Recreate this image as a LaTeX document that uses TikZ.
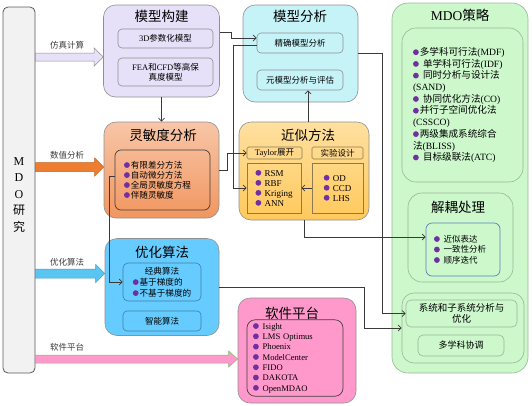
\documentclass[tikz,border=0pt]{standalone}
\usepackage{fontspec}
\setmainfont{Liberation Serif}
\newfontfamily\cjk{Noto Sans CJK SC}
\usepackage{tikz}
\usetikzlibrary{arrows.meta,calc,positioning}
\definecolor{LineGray}{HTML}{909090}
\definecolor{BarFill}{HTML}{F2F2F2}
\definecolor{BarLine}{HTML}{5A5A5A}
\definecolor{LavFill}{HTML}{E6E0F8}
\definecolor{CyanFill}{HTML}{C6F3F8}
\definecolor{PeachTop}{HTML}{F8C6A8}
\definecolor{PeachBot}{HTML}{F1965F}
\definecolor{SandTop}{HTML}{FFE0A0}
\definecolor{SandBot}{HTML}{FFC95C}
\definecolor{SandEdge}{HTML}{8C7A50}
\definecolor{SkyFill}{HTML}{66CCFF}
\definecolor{SkyEdge}{HTML}{3C7EA8}
\definecolor{PinkFill}{HTML}{FF99CC}
\definecolor{MintFill}{HTML}{CCF8CC}
\definecolor{MintLine}{HTML}{9AB59A}
\definecolor{BlueEdge}{HTML}{5B7FC0}
\definecolor{DarkEdge}{HTML}{404040}
\definecolor{Bullet}{HTML}{7030A0}
\definecolor{Ink}{HTML}{3A3A3A}
\definecolor{OrangeArr}{HTML}{ED7D31}
\definecolor{OrangeArrLine}{HTML}{C96420}
\definecolor{SkyArr}{HTML}{5BC5F2}
\definecolor{SkyArrLine}{HTML}{3FA2D0}
\definecolor{PinkArrLine}{HTML}{84BA6A}
\newcommand{\en}[1]{{\rmfamily #1}}
\newcommand{\dotp}{\tikz[baseline=-3.2pt]\fill[Bullet] (0,0) circle[radius=2.9pt];\hspace{1pt}}

\begin{document}
\begin{tikzpicture}[x=1pt,y=-1pt,
    panel/.style={draw=LineGray, rounded corners=12pt, line width=0.6pt, inner sep=0pt},
    ttl/.style={font=\cjk\fontsize{13.5}{15}\selectfont, inner sep=0pt},
    sub/.style={draw=LineGray, rounded corners=4pt, line width=0.6pt, align=center, inner sep=1pt,
        font=\cjk\fontsize{8.5}{10}\selectfont},
    lbl/.style={font=\cjk\fontsize{8.5}{10}\selectfont, text=Ink, inner sep=0pt},
    fat/.style={line width=0.5pt, line join=miter},
    link/.style={draw=Ink, line width=0.7pt, -{Straight Barb[length=3pt,width=6pt]}}]
    \useasboundingbox (0,0) rectangle (532,405);

    % left bar
    \node[draw=BarLine, fill=BarFill, rounded corners=5pt, line width=0.8pt, inner sep=0pt,
        minimum width=32pt, minimum height=366pt] (mdo) at (19,190) {};
    \node[align=center, inner sep=0pt, font=\cjk\fontsize{12}{16.5}\selectfont] (mdoT) at (19,195)
        {\en{M}\\\en{D}\\\en{O}\\研\\究};

    % model building
    \node[panel, fill=LavFill, minimum width=116pt, minimum height=92pt] (mx) at (161.5,51) {};
    \node[ttl] (mxT) at (161.5,16) {模型构建};
    \node[sub, minimum width=95pt, minimum height=19pt] (mx3d) at (165.5,38.5) {\en{3D}参数化模型};
    \node[sub, minimum width=95pt, minimum height=28pt] (mxFea) at (165.5,72)
        {\en{FEA}和\en{CFD}等高保\\真度模型};

    % model analysis
    \node[panel, fill=CyanFill, minimum width=115pt, minimum height=97pt] (fx) at (300.5,53.5) {};
    \node[ttl] (fxT) at (300,16) {模型分析};
    \node[sub, minimum width=86pt, minimum height=20pt] (fxJ) at (300,43) {精确模型分析};
    \node[sub, minimum width=86pt, minimum height=20pt] (fxY) at (300,80) {元模型分析与评估};

    % sensitivity
    \node[panel, top color=PeachTop, bottom color=PeachBot, minimum width=115pt, minimum height=96pt] (lm) at (161.5,170) {};
    \node[ttl] (lmT) at (163,135) {灵敏度分析};
    \node[draw=DarkEdge, rounded corners=6pt, line width=0.7pt, minimum width=95pt, minimum height=60pt,
        text width=77pt, inner xsep=9pt, align=left, font=\cjk\fontsize{8.6}{10}\selectfont] (lmL) at (162.5,180)
        {\dotp 有限差分方法\\\dotp 自动微分方法\\\dotp 全局灵敏度方程\\\dotp 伴随灵敏度};

    % approximation
    \node[panel, top color=SandTop, bottom color=SandBot, minimum width=130pt, minimum height=98pt] (jf) at (304,171) {};
    \node[ttl] (jfT) at (308,135) {近似方法};
    \node[sub, draw=SandEdge, rounded corners=1.5pt, inner sep=0pt, minimum width=55pt, minimum height=12pt] (jfTa) at (274.5,153) {\en{Taylor}展开};
    \node[sub, draw=SandEdge, rounded corners=1.5pt, inner sep=0pt, minimum width=51pt, minimum height=12pt] (jfSy) at (337.5,153) {实验设计};
    \node[draw=SandEdge, line width=0.6pt, minimum width=54pt, minimum height=50pt, align=left, inner sep=0pt,
        font=\rmfamily\fontsize{9}{10}\selectfont] (jfA) at (274,188)
        {\dotp\ RSM\\\dotp\ RBF\\\dotp\ Kriging\\\dotp\ ANN};
    \node[draw=SandEdge, line width=0.6pt, minimum width=51pt, minimum height=50pt, align=left, inner sep=0pt,
        font=\rmfamily\fontsize{9}{10}\selectfont] (jfB) at (337.5,188)
        {\dotp\ OD\\\dotp\ CCD\\\dotp\ LHS};

    % optimisation
    \node[panel, fill=SkyFill, minimum width=114pt, minimum height=97pt] (yh) at (162,287) {};
    \node[ttl] (yhT) at (162,252) {优化算法};
    \node[sub, draw=SkyEdge, rounded corners=5pt, minimum width=78pt, minimum height=38pt,
        font=\cjk\fontsize{8.6}{11}\selectfont] (yhJ) at (162,282)
        {经典算法\\\dotp 基于梯度的\hphantom{不}\\\dotp 不基于梯度的};
    \node[sub, draw=SkyEdge, minimum width=78pt, minimum height=20pt] (yhZ) at (162,321) {智能算法};

    % software
    \node[panel, fill=PinkFill, minimum width=118pt, minimum height=105pt] (rj) at (297,350.5) {};
    \node[ttl] (rjT) at (292,313) {软件平台};
    \node[draw=DarkEdge, rounded corners=8pt, line width=0.7pt, minimum width=96pt, minimum height=72pt,
        text width=84pt, inner xsep=6pt, align=left, font=\rmfamily\fontsize{8.6}{10.3}\selectfont] (rjL) at (295,358)
        {\dotp\ Isight\\\dotp\ LMS Optimus\\\dotp\ Phoenix\\\dotp\ ModelCenter\\\dotp\ FIDO\\\dotp\ DAKOTA\\\dotp\ OpenMDAO};

    % MDO strategy
    \node[panel, fill=MintFill, draw=MintLine, rounded corners=16pt, minimum width=136pt, minimum height=370pt] (cl) at (460,188) {};
    \node[ttl] (clT) at (460,15) {\en{MDO}策略};
    \node[panel, draw=MintLine, rounded corners=14pt, minimum width=121pt, minimum height=154pt,
        text width=99pt, inner xsep=11pt, align=left, font=\cjk\fontsize{9.6}{11.7}\selectfont] (clA) at (462.5,105)
        {\dotp 多学科可行法\en{(MDF)}\\
         \dotp\ 单学科可行法\en{(IDF)}\\
         \dotp\ 同时分析与设计法\\
         \en{(SAND)}\\
         \dotp\ 协同优化方法\en{(CO)}\\
         \dotp 并行子空间优化法\\
         \en{(CSSCO)}\\
         \dotp 两级集成系统综合\\
         法\en{(BLISS)}\\
         \dotp\ 目标级联法\en{(ATC)}};
    \node[panel, draw=MintLine, rounded corners=14pt, minimum width=105pt, minimum height=89pt] (clB) at (460.5,237.5) {};
    \node[ttl] (clBT) at (458,207) {解耦处理};
    \node[draw=BlueEdge, rounded corners=6pt, line width=0.7pt, minimum width=74pt, minimum height=53pt,
        text width=58pt, inner xsep=8pt, align=left, font=\cjk\fontsize{8.5}{10.5}\selectfont] (clBL) at (463,249.5)
        {\dotp\ 近似表达\\\dotp\ 一致性分析\\\dotp\ 顺序迭代};
    \node[panel, draw=MintLine, rounded corners=12pt, minimum width=122pt, minimum height=70pt] (clC) at (463,328) {};
    \node[sub, draw=MintLine, rounded corners=5pt, minimum width=111pt, minimum height=27pt,
        font=\cjk\fontsize{9.5}{11}\selectfont] (clCa) at (461.5,313.5) {系统和子系统分析与\\优化};
    \node[sub, draw=MintLine, rounded corners=5pt, minimum width=86pt, minimum height=21pt,
        font=\cjk\fontsize{9}{11}\selectfont] (clCb) at (461,345.5) {多学科协调};

    % block arrows from the bar
    \draw[fat, fill=LavFill, draw=LineGray] (mdo.east |- 0,53) -- ($(mx.west |- 0,53)+(-9,0)$) -- ++(0,-5)
        -- (mx.west |- 0,57) -- ++(-9,9) -- ++(0,-5) -- (mdo.east |- 0,61) -- cycle;
    \draw[fat, fill=OrangeArr, draw=OrangeArrLine] (mdo.east |- 0,162.5) -- ($(lm.west |- 0,162.5)+(-9,0)$) -- ++(0,-4.5)
        -- (lm.west |- 0,167) -- ++(-9,9) -- ++(0,-4.5) -- (mdo.east |- 0,171.5) -- cycle;
    \draw[fat, fill=SkyArr, draw=SkyArrLine] (mdo.east |- 0,269) -- ($(yh.west |- 0,269)+(-9,0)$) -- ++(0,-4.5)
        -- (yh.west |- 0,273.5) -- ++(-9,9) -- ++(0,-4.5) -- (mdo.east |- 0,278) -- cycle;
    \draw[fat, fill=PinkFill, draw=PinkArrLine] (mdo.east |- 0,355) -- ($(rj.west |- 0,355)+(-9,0)$) -- ++(0,-4)
        -- (rj.west |- 0,359) -- ++(-9,8) -- ++(0,-4) -- (mdo.east |- 0,363) -- cycle;
    \node[lbl] (lbFz) at (67,45) {仿真计算};
    \node[lbl] (lbSz) at (67,155) {数值分析};
    \node[lbl] (lbYh) at (67,262) {优化算法};
    \node[lbl] (lbRj) at (67,347) {软件平台};

    % connectors
    \draw[link] (mx.south) -- (mx.south |- lm.north);
    \draw[link] ([yshift=19pt]mx.east) -- ++(12,0) |- ([yshift=5pt]fxJ.west);
    \draw[link] ([yshift=-2pt]fxJ.west) -- ++(-23,0) |- (jfA.west);
    \draw[link] (lm.east) -- ++(8,0) |- (jfTa.west);
    \draw[link] (jfT |- jf.north) -- (jfT |- fxY.south);
    \draw[link] (jfB.west) -- (jfA.east);
    \draw[link] (fx.east) -- ++(24,0) |- (clCa.west);
    \draw[link] (jf.south) |- ([yshift=12.5pt]clBL.west);
    \draw[link] (yh.east) -- ++(145,0) |- (clC.west);
    \draw[link] ([yshift=4pt]lmL.west) -- ++(-5,0) |- (yhJ.west);
\end{tikzpicture}
\end{document}
